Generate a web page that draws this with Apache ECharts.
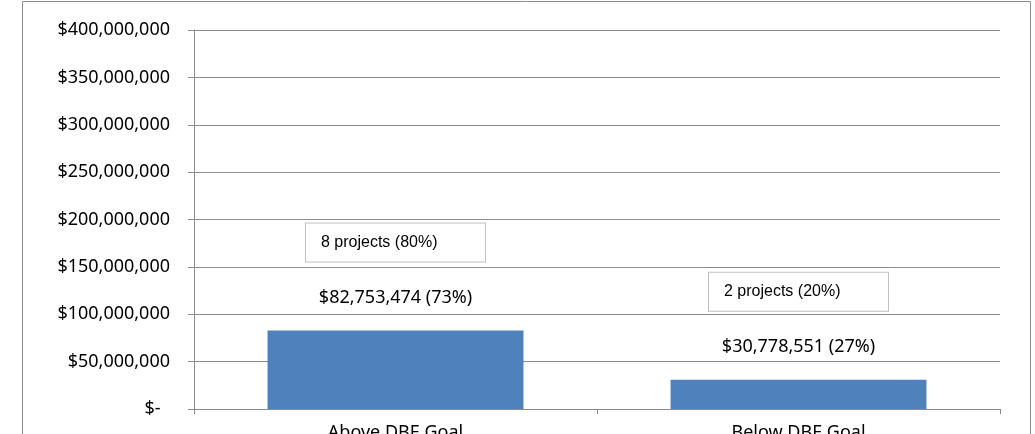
<!DOCTYPE html>
<html>
<head>
<meta charset="utf-8">
<script src="https://cdn.jsdelivr.net/npm/echarts@6/dist/echarts.min.js"></script>
<style>
  html, body { margin: 0; padding: 0; background: #fff; overflow: hidden; }
  #chart { width: 1035px; height: 434px; }
</style>
</head>
<body>
<div id="chart"></div>
<script>
// data
const categories = ['Above DBE Goal', 'Below DBE Goal']
const amounts = [82753474, 30778551]
const projects = [8, 2]
const yTicks = [0, 50000000, 100000000, 150000000, 200000000, 250000000, 300000000, 350000000, 400000000]

const totalAmount = amounts.reduce((a, b) => a + b, 0)
const totalProjects = projects.reduce((a, b) => a + b, 0)

function money(v) {
  return '$' + v.toLocaleString('en-US')
}

const myChart = echarts.init(document.getElementById('chart'))

const option = {
  animation: false,
  backgroundColor: '#fff',
  textStyle: { fontFamily: 'Noto Sans' },
  graphic: [{
    // outer chart border
    type: 'rect',
    shape: { x: 22.5, y: 1.5, width: 1008, height: 440 },
    style: { fill: 'none', stroke: '#8c8c8c', lineWidth: 1 },
    silent: true
  }],
  grid: {
    left: 194,
    right: 35,
    top: 30,
    height: 379,
    containLabel: false,
    outerBoundsMode: 'none'
  },
  xAxis: {
    type: 'category',
    data: categories,
    axisLine: { lineStyle: { color: '#8c8c8c', width: 1 } },
    axisTick: { show: true, length: 5, lineStyle: { color: '#8c8c8c' } },
    axisLabel: {
      color: '#000',
      fontSize: 18,
      fontFamily: 'Noto Sans',
      margin: 15
    }
  },
  yAxis: {
    type: 'value',
    min: yTicks[0],
    max: yTicks[yTicks.length - 1],
    interval: yTicks[1] - yTicks[0],
    axisLine: { show: true, lineStyle: { color: '#8c8c8c', width: 1 } },
    axisTick: { show: true, length: 6, lineStyle: { color: '#8c8c8c' } },
    splitLine: { show: true, lineStyle: { color: '#8c8c8c', width: 1 } },
    axisLabel: {
      color: '#000',
      fontSize: 18,
      fontFamily: 'Noto Sans',
      margin: 24,
      formatter(v) {
        return v === 0 ? '$-\u00a0\u00a0' : money(v)
      }
    }
  },
  series: [{
    type: 'bar',
    data: amounts,
    barCategoryGap: '36.5%',
    itemStyle: { color: '#4f81bd' },
    label: {
      show: true,
      position: 'top',
      distance: -3,
      color: '#000',
      formatter(p) {
        const i = p.dataIndex
        const pp = Math.round(projects[i] / totalProjects * 100)
        const ap = Math.round(amounts[i] / totalAmount * 100)
        return '{box|' + projects[i] + ' projects (' + pp + '%)}\n{val|' + money(amounts[i]) + ' (' + ap + '%)}'
      },
      rich: {
        box: {
          fontFamily: 'Liberation Sans',
          fontSize: 16,
          color: '#000',
          width: 164,
          height: 38,
          padding: [0, 0, 0, 15],
          align: 'left',
          backgroundColor: '#fff',
          borderColor: '#bfbfbf',
          borderWidth: 1
        },
        val: {
          fontFamily: 'Noto Sans',
          fontSize: 18,
          color: '#000',
          lineHeight: 72
        }
      }
    }
  }]
}

myChart.setOption(option)
</script>
</body>
</html>
